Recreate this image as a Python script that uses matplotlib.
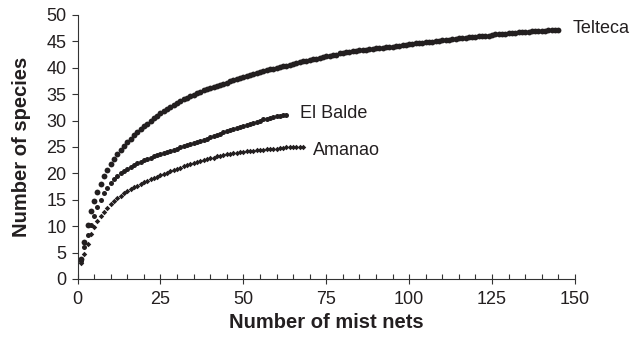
import matplotlib
matplotlib.use("Agg")
import matplotlib.pyplot as plt
from matplotlib.ticker import MultipleLocator

plt.rcParams["font.family"] = ["Liberation Sans", "DejaVu Sans"]

# species accumulation curves, one value per mist net (1..n)
telteca = [
    3.8, 7.0, 10.3, 12.8, 14.8, 16.5, 18.0, 19.5, 20.7, 21.7,
    22.7, 23.6, 24.4, 25.2, 25.9, 26.6, 27.2, 27.8, 28.4, 28.9,
    29.4, 29.9, 30.4, 30.9, 31.4, 31.8, 32.2, 32.6, 33.0, 33.4,
    33.7, 34.0, 34.3, 34.6, 34.9, 35.2, 35.4, 35.7, 35.9, 36.1,
    36.3, 36.5, 36.7, 36.9, 37.1, 37.4, 37.6, 37.8, 38.0, 38.3,
    38.5, 38.7, 38.9, 39.0, 39.2, 39.4, 39.5, 39.7, 39.8, 40.0,
    40.1, 40.3, 40.4, 40.6, 40.7, 40.9, 41.0, 41.2, 41.3, 41.5,
    41.6, 41.7, 41.9, 42.0, 42.2, 42.3, 42.4, 42.5, 42.7, 42.8,
    42.9, 43.0, 43.1, 43.2, 43.3, 43.4, 43.4, 43.5, 43.6, 43.7,
    43.8, 43.8, 43.9, 44.0, 44.0, 44.1, 44.2, 44.3, 44.3, 44.4,
    44.5, 44.6, 44.6, 44.7, 44.8, 44.9, 44.9, 45.0, 45.1, 45.2,
    45.3, 45.3, 45.4, 45.5, 45.6, 45.6, 45.7, 45.8, 45.8, 45.9,
    46.0, 46.0, 46.1, 46.1, 46.2, 46.3, 46.3, 46.4, 46.4, 46.5,
    46.6, 46.6, 46.7, 46.7, 46.8, 46.8, 46.9, 46.9, 47.0, 47.0,
    47.0, 47.1, 47.1, 47.2, 47.2,
]
el_balde = [
    3.5, 6.0, 8.3, 10.3, 12.0, 13.6, 15.0, 16.2, 17.3, 18.2,
    18.9, 19.5, 20.0, 20.4, 20.8, 21.2, 21.5, 21.9, 22.2, 22.5,
    22.8, 23.0, 23.3, 23.5, 23.7, 23.9, 24.1, 24.3, 24.5, 24.7,
    24.9, 25.1, 25.3, 25.5, 25.7, 25.9, 26.2, 26.4, 26.6, 26.8,
    27.1, 27.3, 27.5, 27.8, 28.0, 28.2, 28.4, 28.6, 28.8, 29.0,
    29.2, 29.4, 29.6, 29.8, 30.0, 30.2, 30.3, 30.5, 30.7, 30.8,
    30.9, 31.0, 31.1,
]
amanao = [
    3.0, 4.8, 6.6, 8.6, 9.9, 11.0, 12.0, 12.7, 13.5, 14.2,
    14.8, 15.3, 15.8, 16.2, 16.6, 17.0, 17.4, 17.7, 18.0, 18.3,
    18.6, 18.9, 19.1, 19.4, 19.6, 19.9, 20.1, 20.4, 20.6, 20.8,
    21.0, 21.3, 21.5, 21.7, 21.9, 22.1, 22.3, 22.5, 22.7, 22.9,
    23.0, 23.2, 23.3, 23.5, 23.6, 23.7, 23.8, 23.9, 24.0, 24.1,
    24.2, 24.3, 24.3, 24.4, 24.5, 24.5, 24.6, 24.6, 24.7, 24.7,
    24.8, 24.8, 24.9, 24.9, 24.9, 25.0, 25.0, 25.0,
]
site_names = ["Telteca", "El Balde", "Amanao"]

ink = "#231f20"
styles = {
    "Telteca": dict(marker="o", ms=4.2, label_dx=4.2, label_dy=0.2),
    "El Balde": dict(marker="o", ms=3.6, label_dx=4, label_dy=0.3),
    "Amanao": dict(marker="D", ms=2.8, label_dx=3, label_dy=-0.6),
}

fig = plt.figure(figsize=(6.36, 3.39), dpi=100)
ax = fig.add_axes([0.122, 0.177, 0.782, 0.779])

for name, values in zip(site_names, [telteca, el_balde, amanao]):
    st = styles[name]
    xs = list(range(1, len(values) + 1))
    ax.plot(xs, values, linestyle="none", marker=st["marker"], ms=st["ms"],
            color=ink, markeredgewidth=0)
    ax.text(xs[-1] + st["label_dx"], values[-1] + st["label_dy"], name,
            va="center", ha="left", fontsize=13, color=ink)

ax.set_xlim(0, 150)
ax.set_ylim(0, 50)
ax.xaxis.set_major_locator(MultipleLocator(25))
ax.xaxis.set_minor_locator(MultipleLocator(5))
ax.yaxis.set_major_locator(MultipleLocator(5))

ax.spines["top"].set_visible(False)
ax.spines["right"].set_visible(False)
for sp in ("left", "bottom"):
    ax.spines[sp].set_linewidth(0.8)
    ax.spines[sp].set_color("#333333")

ax.tick_params(axis="x", which="major", direction="inout", length=7, width=0.8,
               labelsize=13, colors="#333333", labelcolor=ink, pad=5)
ax.tick_params(axis="x", which="minor", direction="in", length=3.5, width=0.8,
               colors="#333333")
ax.tick_params(axis="y", which="major", direction="out", length=4, width=0.8,
               labelsize=13, colors="#333333", labelcolor=ink, pad=4)

ax.set_xlabel("Number of mist nets", fontsize=14.5, fontweight="bold", color=ink,
              labelpad=4)
ax.set_ylabel("Number of species", fontsize=14.5, fontweight="bold", color=ink,
              labelpad=11)

fig.savefig("out.png", dpi=100)
